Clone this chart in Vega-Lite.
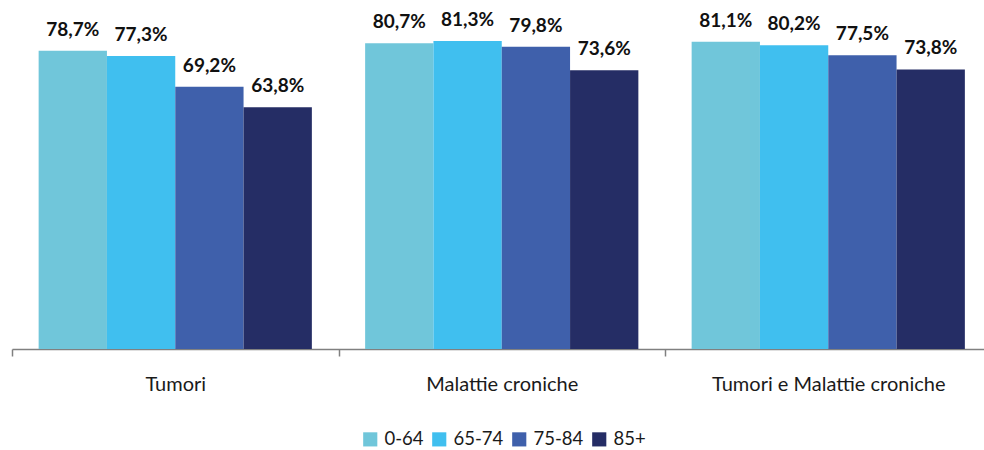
{
  "$schema": "https://vega.github.io/schema/vega-lite/v6.json",
  "width": 972,
  "height": 341,
  "autosize": {"type": "none"},
  "padding": {"left": 12, "top": 8, "right": 0, "bottom": 101},
  "background": "white",
  "config": {"view": {"stroke": null}, "font": "Lato"},
  "data": {
    "values": [
      {"categoria": "Tumori", "eta": "0-64", "valore": 78.7, "label": "78,7%"},
      {"categoria": "Tumori", "eta": "65-74", "valore": 77.3, "label": "77,3%"},
      {"categoria": "Tumori", "eta": "75-84", "valore": 69.2, "label": "69,2%"},
      {"categoria": "Tumori", "eta": "85+", "valore": 63.8, "label": "63,8%"},
      {"categoria": "Malattie croniche", "eta": "0-64", "valore": 80.7, "label": "80,7%"},
      {"categoria": "Malattie croniche", "eta": "65-74", "valore": 81.3, "label": "81,3%"},
      {"categoria": "Malattie croniche", "eta": "75-84", "valore": 79.8, "label": "79,8%"},
      {"categoria": "Malattie croniche", "eta": "85+", "valore": 73.6, "label": "73,6%"},
      {"categoria": "Tumori e Malattie croniche", "eta": "0-64", "valore": 81.1, "label": "81,1%"},
      {"categoria": "Tumori e Malattie croniche", "eta": "65-74", "valore": 80.2, "label": "80,2%"},
      {"categoria": "Tumori e Malattie croniche", "eta": "75-84", "valore": 77.5, "label": "77,5%"},
      {"categoria": "Tumori e Malattie croniche", "eta": "85+", "valore": 73.8, "label": "73,8%"}
    ]
  },
  "encoding": {
    "x": {
      "field": "categoria",
      "type": "nominal",
      "sort": ["Tumori", "Malattie croniche", "Tumori e Malattie croniche"],
      "scale": {"range": [0, 979.5], "paddingInner": 0, "paddingOuter": 0},
      "axis": {
        "title": null,
        "labelAngle": 0,
        "tickBand": "extent",
        "tickSize": 7,
        "tickColor": "#808080",
        "domainColor": "#808080",
        "domainWidth": 1.5,
        "tickWidth": 1.5,
        "labelFontSize": 20,
        "labelColor": "#1a1a1a",
        "labelBaseline": "alphabetic",
        "labelPadding": 34,
        "labelLimit": 0,
        "labelFont": "Lato"
      }
    },
    "xOffset": {
      "field": "eta",
      "type": "nominal",
      "sort": ["0-64", "65-74", "75-84", "85+"],
      "scale": {"paddingOuter": 0.39, "paddingInner": 0}
    },
    "y": {
      "field": "valore",
      "type": "quantitative",
      "scale": {"domain": [0, 90], "nice": false, "zero": true},
      "axis": null
    }
  },
  "layer": [
    {
      "mark": {"type": "bar"},
      "encoding": {
        "color": {
          "field": "eta",
          "type": "nominal",
          "sort": ["0-64", "65-74", "75-84", "85+"],
          "scale": {
            "domain": ["0-64", "65-74", "75-84", "85+"],
            "range": ["#70C6DA", "#40BFEF", "#3F60AB", "#252D65"]
          },
          "legend": {
            "title": null,
            "orient": "none",
            "direction": "horizontal",
            "legendX": 349,
            "legendY": 422,
            "symbolType": "square",
            "symbolSize": 200,
            "symbolStrokeWidth": 0,
            "symbolOpacity": 1,
            "labelFontSize": 18.5,
            "labelColor": "#1a1a1a",
            "labelFont": "Lato",
            "labelOffset": 5,
            "columnPadding": 6
          }
        }
      }
    },
    {
      "mark": {
        "type": "text",
        "baseline": "alphabetic",
        "dy": -15,
        "fontSize": 19,
        "fontWeight": "bold",
        "color": "#111111",
        "font": "Lato"
      },
      "encoding": {
        "text": {"field": "label", "type": "nominal"}
      }
    }
  ]
}
